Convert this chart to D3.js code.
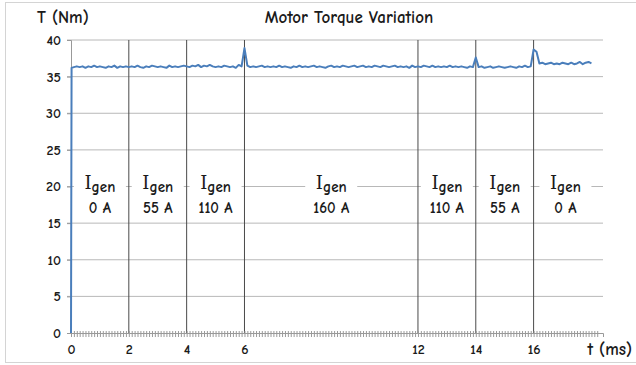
<!DOCTYPE html>
<html>
<head>
<meta charset="utf-8">
<script src="https://cdn.jsdelivr.net/npm/d3@7"></script>
<style>
  body { margin: 0; background: #fff; }
  svg { display: block; }
  text { font-family: "Comic Sans MS", "Comic Neue", "DejaVu Sans", sans-serif; fill: #1a1a1a; }
</style>
</head>
<body>
<div id="chart"></div>
<script>
// startup step, then steady samples every 0.1 ms from 0.1 to 18.0
const startTime = [0, 0.02];
const startTorque = [0, 36.2];
const sampleStep = 0.1;
const torque = [
  36.3, 36.4, 36.3, 36.4, 36.2, 36.4, 36.3, 36.5, 36.3, 36.4,
  36.3, 36.2, 36.4, 36.3, 36.5, 36.2, 36.4, 36.3, 36.4, 36.3,
  36.4, 36.3, 36.5, 36.3, 36.2, 36.4, 36.3, 36.5, 36.4, 36.3,
  36.4, 36.3, 36.2, 36.5, 36.3, 36.4, 36.3, 36.4, 36.5, 36.4,
  36.3, 36.5, 36.4, 36.6, 36.3, 36.5, 36.4, 36.6, 36.4, 36.3,
  36.4, 36.3, 36.5, 36.4, 36.3, 36.4, 36.2, 36.6, 36.4, 38.9,
  36.5, 36.3, 36.4, 36.3, 36.4, 36.5, 36.3, 36.4, 36.3, 36.4,
  36.3, 36.5, 36.3, 36.4, 36.3, 36.2, 36.4, 36.3, 36.5, 36.3,
  36.4, 36.3, 36.4, 36.5, 36.3, 36.4, 36.3, 36.2, 36.4, 36.5,
  36.3, 36.4, 36.3, 36.5, 36.4, 36.3, 36.4, 36.5, 36.3, 36.4,
  36.5, 36.3, 36.4, 36.3, 36.5, 36.4, 36.3, 36.5, 36.4, 36.3,
  36.4, 36.5, 36.3, 36.4, 36.3, 36.4, 36.2, 36.5, 36.3, 36.4,
  36.3, 36.5, 36.4, 36.3, 36.5, 36.3, 36.4, 36.3, 36.4, 36.3,
  36.5, 36.3, 36.4, 36.3, 36.4, 36.3, 36.2, 36.4, 36.3, 37.6,
  36.3, 36.4, 36.2, 36.3, 36.4, 36.2, 36.3, 36.4, 36.3, 36.2,
  36.3, 36.4, 36.3, 36.2, 36.4, 36.3, 36.5, 36.3, 36.4, 38.7,
  38.4, 36.8, 36.9, 36.7, 36.8, 36.9, 36.7, 36.8, 36.7, 36.9,
  36.8, 36.7, 36.9, 36.7, 36.8, 37.0, 36.7, 36.9, 37.0, 36.8
];

const xTicks = [0, 2, 4, 6, 12, 14, 16];
const yTicks = [0, 5, 10, 15, 20, 25, 30, 35, 40];
const segmentEdges = [0, 2, 4, 6, 12, 14, 16, 18.2];
const currentLabels = ["0 A", "55 A", "110 A", "160 A", "110 A", "55 A", "0 A"];

const width = 636, height = 365;
const svg = d3.select("#chart").append("svg")
  .attr("width", width)
  .attr("height", height);

// outer frame
svg.append("rect")
  .attr("x", 5.5).attr("y", 2.5)
  .attr("width", 640).attr("height", 360)
  .attr("fill", "none")
  .attr("stroke", "#d4d4d4");

const x = d3.scaleLinear().domain([0, 18.4]).range([71, 603]);
const y = d3.scaleLinear().domain([0, 40]).range([333, 40]);

// horizontal gridlines
svg.append("g")
  .selectAll("line")
  .data(yTicks.filter(d => d > 0))
  .enter().append("line")
  .attr("x1", x(0) - 4).attr("x2", x(18.4))
  .attr("y1", d => y(d)).attr("y2", d => y(d))
  .attr("stroke", "#b8b8b8");

// y axis labels
svg.append("g")
  .attr("transform", `translate(${x(0)},0)`)
  .call(d3.axisLeft(y).tickValues(yTicks).tickSize(4).tickPadding(6))
  .call(g => g.select(".domain").attr("stroke", "#999"))
  .call(g => g.selectAll(".tick line").attr("stroke", "#999"))
  .call(g => g.selectAll(".tick text")
    .style("font-family", "'Comic Sans MS', 'Comic Neue', 'DejaVu Sans', sans-serif")
    .style("font-size", "14px").style("font-weight", "bold").attr("fill", "#333"));

// vertical separators at the current steps
svg.append("g")
  .selectAll("line")
  .data(xTicks.filter(d => d > 0))
  .enter().append("line")
  .attr("x1", d => x(d)).attr("x2", d => x(d))
  .attr("y1", y(40)).attr("y2", y(0))
  .attr("stroke", "#4a4a4a");

// dense minor ticks along the time axis
svg.append("g")
  .attr("transform", `translate(0,${y(0)})`)
  .call(d3.axisBottom(x).tickValues(d3.range(0, 183).map(i => i * 0.1)).tickSize(4).tickFormat(""))
  .call(g => g.select(".domain").attr("stroke", "#999"))
  .call(g => g.selectAll(".tick line").attr("stroke", "#9a9a9a").attr("y1", -2));

// labelled time ticks
svg.append("g")
  .attr("transform", `translate(0,${y(0)})`)
  .call(d3.axisBottom(x).tickValues(xTicks).tickSize(0).tickPadding(11))
  .call(g => g.select(".domain").remove())
  .call(g => g.selectAll(".tick text")
    .style("font-family", "'Comic Sans MS', 'Comic Neue', 'DejaVu Sans', sans-serif")
    .style("font-size", "14px").style("font-weight", "bold").attr("fill", "#333"));

// current annotations
const blocks = svg.append("g")
  .selectAll("g")
  .data(currentLabels.map((lab, i) => ({ lab, mid: (segmentEdges[i] + segmentEdges[i + 1]) / 2 })))
  .enter().append("g")
  .attr("transform", d => `translate(${x(d.mid)},0)`);

blocks.append("rect")
  .attr("x", -26).attr("y", 173)
  .attr("width", 52).attr("height", 44)
  .attr("fill", "#fff");

const igen = blocks.append("text")
  .attr("y", 189)
  .attr("text-anchor", "middle")
  .style("font-weight", "bold");
igen.append("tspan").style("font-size", "18px").style("font-family", "'DejaVu Serif', serif").style("font-weight", "normal").text("I");
igen.append("tspan").style("font-size", "15px").attr("dy", 3).text("gen");

blocks.append("text")
  .attr("y", 213)
  .attr("text-anchor", "middle")
  .style("font-weight", "bold")
  .style("font-size", "15px")
  .text(d => d.lab);

// torque trace
const points = startTime.map((t, i) => [t, startTorque[i]])
  .concat(torque.map((v, i) => [(i + 1) * sampleStep, v]));

svg.append("path")
  .datum(points)
  .attr("fill", "none")
  .attr("stroke", "#4a7ebb")
  .attr("stroke-width", 2)
  .attr("stroke-linejoin", "round")
  .attr("d", d3.line().x(d => x(d[0])).y(d => y(d[1])));

// titles
svg.append("text")
  .attr("x", 349).attr("y", 23)
  .attr("text-anchor", "middle")
  .style("font-weight", "bold").style("font-size", "17px")
  .text("Motor Torque Variation");

svg.append("text")
  .attr("x", 37).attr("y", 23)
  .style("font-weight", "bold").style("font-size", "17px")
  .text("T (Nm)");

svg.append("text")
  .attr("x", 632).attr("y", 355)
  .attr("text-anchor", "end")
  .style("font-weight", "bold").style("font-size", "17px")
  .text("t (ms)");
</script>
</body>
</html>
